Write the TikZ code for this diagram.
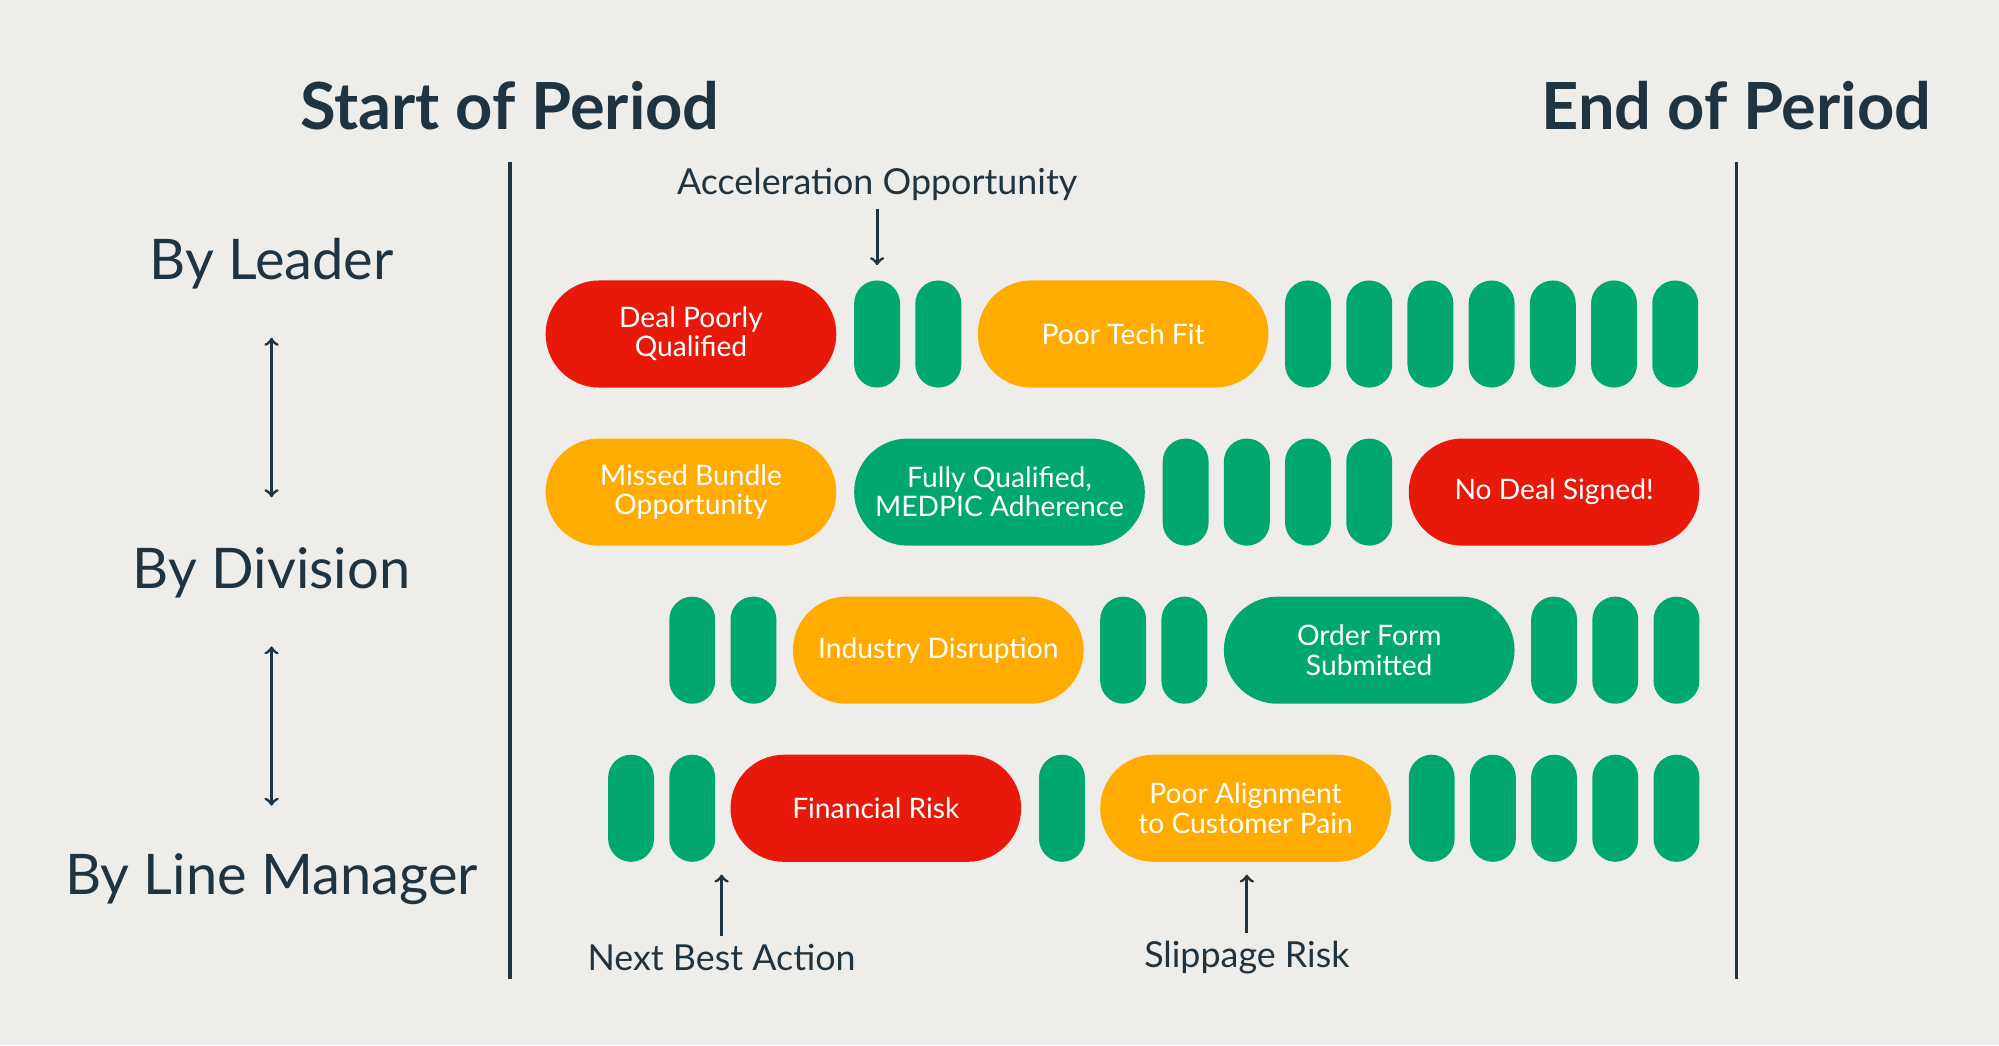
\documentclass[tikz,border=0pt]{standalone}
\usepackage{fontspec}
\setmainfont{Lato}
\definecolor{bg}{HTML}{EFEDE9}
\definecolor{rd}{HTML}{E8190A}
\definecolor{og}{HTML}{FFAB00}
\definecolor{gn}{HTML}{00A870}
\definecolor{tx}{HTML}{1F3440}
\begin{document}
\begin{tikzpicture}[x=0.02cm,y=-0.02cm,
  pill/.style={draw=none, minimum height=84*0.02cm, inner sep=0pt, text=white, font=\fontsize{12.6}{13}\selectfont, align=center},
  big/.style={pill, minimum width=228*0.02cm, rounded corners=0.84cm},
  sm/.style={pill, minimum width=36*0.02cm, rounded corners=0.36cm, fill=gn},
  lab/.style={text=tx, font=\fontsize{25}{28}\selectfont},
  ann/.style={text=tx, font=\fontsize{16}{18}\selectfont},
  ttl/.style={text=tx, font=\fontsize{29}{32}\selectfont\bfseries},
  arr/.style={-to, draw=tx, line width=1.3pt},
  darr/.style={to-to, draw=tx, line width=1.3pt}]
\fill[bg] (0,0) rectangle (1568,820);
\useasboundingbox (0,0) rectangle (1568,820);
\node[ttl] (t1) at (400,83) {Start of Period};
\node[ttl] (t2) at (1362,83) {End of Period};
\coordinate (l1a) at (400,127); \coordinate (l1b) at (400,768);
\coordinate (l2a) at (1362,127); \coordinate (l2b) at (1362,768);
\draw[tx, line width=1.5pt] (l1a) -- (l1b);
\draw[tx, line width=1.5pt] (l2a) -- (l2b);
\node[lab] (bl) at (213,207) {By Leader};
\node[lab] (bd) at (213,449) {By Division};
\node[lab] (bm) at (213,690) {By Line Manager};
\coordinate (d1a) at (213,265); \coordinate (d1b) at (213,390);
\coordinate (d2a) at (213,507); \coordinate (d2b) at (213,632);
\draw[darr] (d1a) -- (d1b);
\draw[darr] (d2a) -- (d2b);
% row 1
\node[big, fill=rd] (r1a) at (542,262) {Deal Poorly\\Qualified};
\foreach \x [count=\i] in {670,718} \node[sm] (r1s\i) at (\x+18,262) {};
\node[big, fill=og] (r1b) at (881,262) {Poor Tech Fit};
\foreach \k in {0,...,6} \node[sm] (r1t\k) at (1026+48*\k,262) {};
% row 2
\node[big, fill=og] (r2a) at (542,386) {Missed Bundle\\Opportunity};
\node[big, fill=gn] (r2b) at (784,386) {Fully Qualified,\\MEDPIC Adherence};
\foreach \k in {0,...,3} \node[sm] (r2s\k) at (930+48*\k,386) {};
\node[big, fill=rd] (r2c) at (1219,386) {No Deal Signed!};
% row 3
\foreach \k in {0,1} \node[sm] (r3s\k) at (543+48*\k,510) {};
\node[big, fill=og] (r3a) at (736,510) {Industry Disruption};
\foreach \k in {0,1} \node[sm] (r3t\k) at (881+48*\k,510) {};
\node[big, fill=gn] (r3b) at (1074,510) {Order Form\\Submitted};
\foreach \k in {0,...,2} \node[sm] (r3u\k) at (1219+48*\k,510) {};
% row 4
\foreach \k in {0,1} \node[sm] (r4s\k) at (495+48*\k,634) {};
\node[big, fill=rd] (r4a) at (687,634) {Financial Risk};
\node[sm] (r4t) at (833,634) {};
\node[big, fill=og] (r4b) at (977,634) {Poor Alignment\\to Customer Pain};
\foreach \k in {0,...,4} \node[sm] (r4u\k) at (1123+48*\k,634) {};
% annotations
\node[ann] (acc) at (688,145) {Acceleration Opportunity};
\coordinate (acce) at (688,208);
\draw[arr] (acc.south) -- (acce);
\node[ann] (nba) at (566,751) {Next Best Action};
\coordinate (nbae) at (566,686);
\draw[arr] (nba.north) -- (nbae);
\node[ann] (slp) at (978,751) {Slippage Risk};
\coordinate (slpe) at (978,686);
\draw[arr] (slp.north) -- (slpe);
\end{tikzpicture}
\end{document}
